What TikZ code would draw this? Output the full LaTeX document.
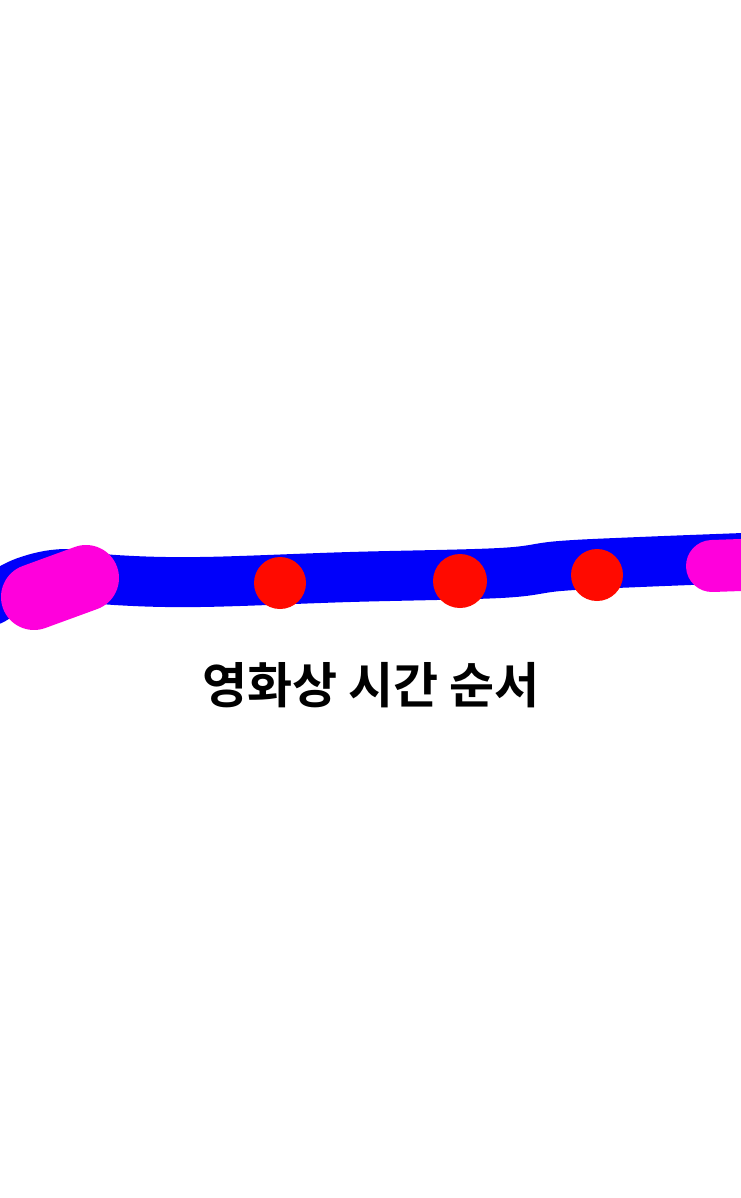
\documentclass[tikz,border=0pt]{standalone}
\usepackage{fontspec}
\newfontfamily\kofont{Noto Sans CJK KR}[BoldFont={* Bold}]
\usepackage{tikz}
\definecolor{strokeblue}{RGB}{0,0,250}
\definecolor{markmagenta}{RGB}{255,0,220}
\definecolor{eventred}{RGB}{255,10,0}
\tikzstyle{Timeline}=[line width=50pt, draw=strokeblue, line cap=round, line join=round]
\tikzstyle{Blob}=[draw=markmagenta, line cap=round]
\tikzstyle{Event}=[shape=circle, fill=eventred, inner sep=0pt, minimum size=52pt]
\tikzstyle{Caption}=[font=\kofont\bfseries\fontsize{49}{58}\selectfont, text=black]

\begin{document}
\begin{tikzpicture}[x=1pt, y=-1pt]
	\useasboundingbox [fill=white] (0,0) rectangle (740,1198);
	% blue stroke
	\draw [style=Timeline] plot [smooth, tension=0.6] coordinates {(-8,600) (25,582) (65,574) (115,580) (200,582) (350,577) (500,573) (560,566) (640,562) (770,557)};
	% magenta ends
	\draw [style=Blob, line width=66pt] (34,597) -- (86,578);
	\draw [style=Blob, line width=52pt] (712,566) -- (770,564);
	% events
	\node [style=Event] (first) at (280,583) {};
	\node [style=Event, minimum size=54pt] (second) at (460,581) {};
	\node [style=Event] (third) at (597,575) {};
	% label
	\node [style=Caption] (caption) at (371,685) {영화상 시간 순서};
\end{tikzpicture}
\end{document}
